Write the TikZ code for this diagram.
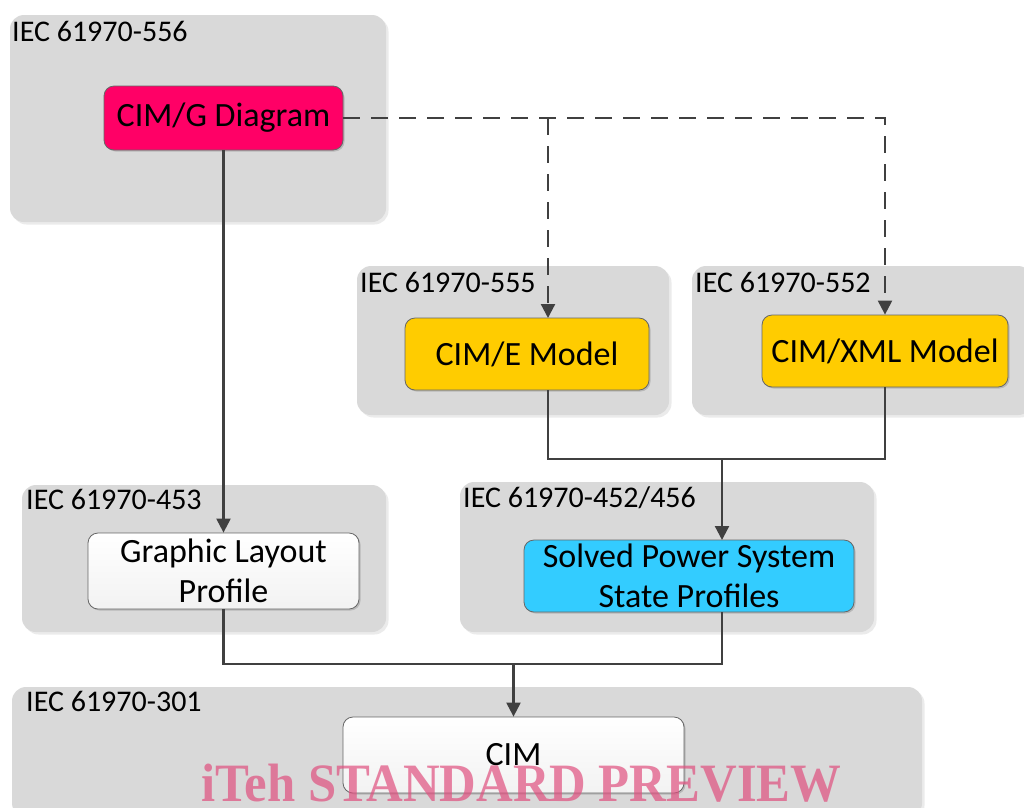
\documentclass[tikz,border=0pt]{standalone}
\usepackage{fontspec}
\setmainfont{Carlito}
\newfontfamily\wmfont{Liberation Serif}
\usetikzlibrary{arrows.meta,shadows}

\definecolor{groupgray}{HTML}{D9D9D9}
\definecolor{linegray}{HTML}{404040}
\definecolor{cimred}{HTML}{FF0066}
\definecolor{cimyellow}{HTML}{FFCC00}
\definecolor{cimblue}{HTML}{33CCFF}
\definecolor{wmpink}{HTML}{E0507F}

\tikzset{
  group/.style={fill=groupgray, draw=none, rounded corners=14pt, inner sep=0pt,
    drop shadow={shadow xshift=2.5pt, shadow yshift=-2.5pt, fill=black, opacity=0.08}},
  grouplabel/.style={anchor=north west, inner sep=0pt, font=\fontsize{30}{34}\selectfont},
  box/.style={draw=black!60, line width=0.8pt, rounded corners=10pt, inner sep=0pt,
    align=center, font=\fontsize{34}{40}\selectfont,
    drop shadow={shadow xshift=1.5pt, shadow yshift=-1.5pt, fill=black, opacity=0.15}},
  whitebox/.style={box, top color=white, bottom color=black!5},
  conn/.style={draw=linegray, line width=2.2pt},
  arr/.style={conn, -{Triangle[length=14pt, width=14pt]}},
  dashconn/.style={conn, dash pattern=on 17pt off 11pt},
  dasharr/.style={dashconn, -{Triangle[length=14pt, width=14pt]}},
}

\begin{document}
\begin{tikzpicture}[x=1pt, y=-1pt]
\useasboundingbox (0,0) rectangle (1024,807);

% package groups
\node[group, minimum width=376pt, minimum height=207pt] (g556) at (198,118.5) {};
\node[group, minimum width=312pt, minimum height=149pt] (g555) at (513,340.5) {};
\node[group, minimum width=340pt, minimum height=149pt] (g552) at (862,340.5) {};
\node[group, minimum width=364pt, minimum height=147pt] (g453) at (204,558.5) {};
\node[group, minimum width=414pt, minimum height=150pt] (g452) at (667,557) {};
\node[group, minimum width=910pt, minimum height=130pt] (g301) at (467,752) {};

\node[grouplabel] (l556) at (12,21) {IEC 61970-556};
\node[grouplabel] (l555) at (360,272) {IEC 61970-555};
\node[grouplabel] (l552) at (695,272) {IEC 61970-552};
\node[grouplabel] (l453) at (26,489) {IEC 61970-453};
\node[grouplabel] (l452) at (463,486) {IEC 61970-452/456};
\node[grouplabel] (l301) at (26,691) {IEC 61970-301};

% model and profile boxes
\node[box, fill=cimred, minimum width=239pt, minimum height=64pt] (cimg) at (223.5,118) {CIM/G Diagram};
\node[box, fill=cimyellow, minimum width=244pt, minimum height=72pt] (cime) at (527,354) {CIM/E Model};
\node[box, fill=cimyellow, minimum width=246pt, minimum height=72pt] (cimx) at (885,351) {CIM/XML Model};
\node[whitebox, minimum width=271pt, minimum height=76pt] (glp) at (223.5,571) {Graphic Layout\\Profile};
\node[box, fill=cimblue, minimum width=330pt, minimum height=72pt] (sps) at (689,576) {Solved Power System\\State Profiles};
\node[whitebox, minimum width=341pt, minimum height=76pt] (cim) at (513.5,755) {CIM};

% connector points
\coordinate (dj) at (548,118);
\coordinate (dk) at (885,118);
\coordinate (ein) at (548,318);
\coordinate (eout) at (548,390);
\coordinate (ej) at (548,459);
\coordinate (xj) at (885,459);
\coordinate (jn1) at (722,459);
\coordinate (spsin) at (722,540);
\coordinate (spsout) at (722,612);
\coordinate (gj) at (223.5,664);
\coordinate (sj) at (722,664);
\coordinate (jn2) at (513.5,664);

% dashed derivations from the diagram
\draw[dasharr] (cimg.east) -- (dk) -- (cimx.north);
\draw[dasharr] (dj) -- (ein);

% solid flows
\draw[arr] (cimg.south) -- (glp.north);
\draw[conn] (eout) -- (ej) -- (xj) -- (cimx.south);
\draw[arr] (jn1) -- (spsin);
\draw[conn] (glp.south) -- (gj) -- (sj) -- (spsout);
\draw[arr] (jn2) -- (cim.north);

% watermark
\node[anchor=base, inner sep=0pt, text=wmpink, text opacity=0.7, xscale=0.94,
      font=\wmfont\bfseries\fontsize{54}{54}\selectfont] (wm) at (521.5,801) {iTeh STANDARD PREVIEW};
\end{tikzpicture}
\end{document}
